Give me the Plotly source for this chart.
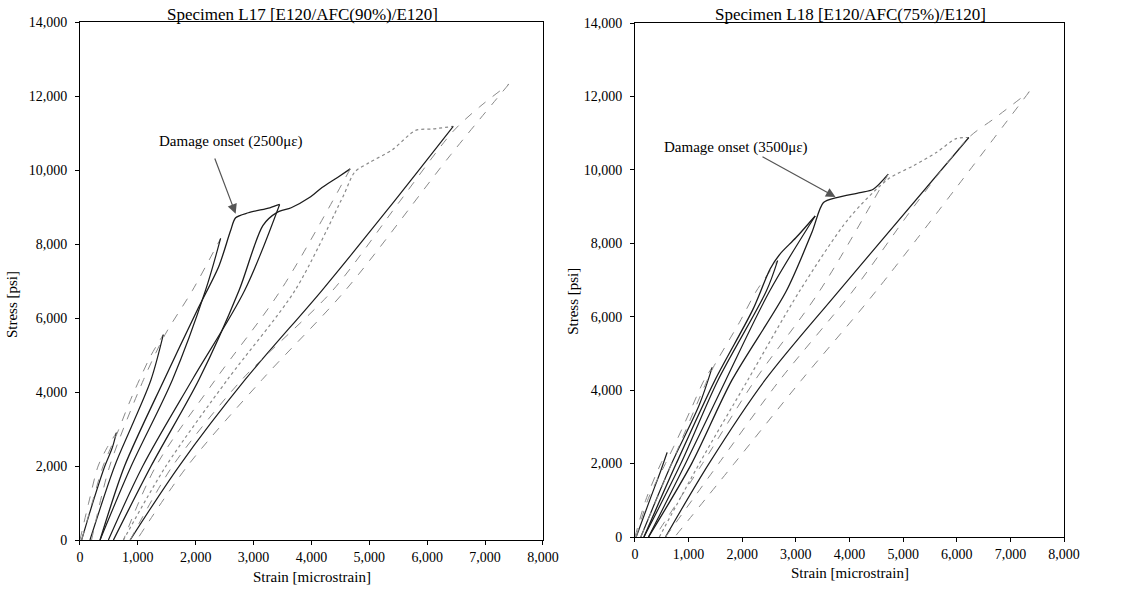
import plotly.graph_objects as go

# ---------------- Data: Specimen L17 ----------------
l17_load_strain = [
    [0, 150, 314, 470, 630],
    [29, 210, 400, 660, 850, 1029, 1230, 1440],
    [200, 514, 1100, 1470, 1945, 2430],
    [347, 771, 1457, 2038, 2400, 2600, 2690, 2910, 3280, 3450],
    [578, 1229, 2057, 2750, 3160, 3400, 3650, 3965, 4183, 4450, 4670],
    [751, 1486, 2550, 3717, 4550, 4750, 5000, 5400, 5800, 6100, 6450],
    [867, 1600, 2800, 4369, 5500, 6450, 6900, 7410],
]
l17_load_stress = [
    [0, 1000, 2000, 2500, 2900],
    [0, 1000, 2000, 2950, 3700, 4339, 5000, 5550],
    [0, 2000, 4339, 5550, 6750, 8150],
    [0, 2000, 4339, 6250, 7400, 8350, 8710, 8845, 8980, 9070],
    [0, 2000, 4339, 6750, 8500, 8850, 8980, 9255, 9527, 9800, 10030],
    [0, 2000, 4339, 6750, 9300, 9950, 10200, 10550, 11070, 11110, 11180],
    [0, 2000, 4339, 6750, 9100, 11050, 11700, 12320],
]
l17_unload_strain = [
    [630, 560, 430, 220, 29],
    [1440, 1229, 900, 600, 173],
    [2430, 2170, 1600, 886, 347],
    [3450, 2847, 1943, 1086, 491],
    [4670, 3468, 2343, 1314, 751],
    [6450, 5300, 4183, 2857, 1714, 867],
    [7410, 6400, 4587, 3150, 1857, 982],
]
l17_unload_stress = [
    [2900, 2500, 2000, 1000, 0],
    [5550, 4339, 3100, 2000, 0],
    [8150, 6750, 4339, 2000, 0],
    [9070, 6750, 4339, 2000, 0],
    [10030, 6750, 4339, 2000, 0],
    [11180, 8900, 6750, 4339, 2000, 0],
    [12320, 10400, 6750, 4339, 2000, 0],
]

# ---------------- Data: Specimen L18 ----------------
l18_load_strain = [
    [0, 200, 483, 600],
    [23, 250, 569, 800, 1050, 1287, 1440],
    [109, 684, 1345, 1460, 1950, 2264, 2660],
    [167, 770, 1489, 2200, 2520, 2700, 3000, 3360],
    [253, 1057, 1805, 2822, 3300, 3515, 3762, 4196, 4443, 4722],
    [454, 1200, 2100, 3070, 4000, 4722, 5186, 5619, 5990, 6225],
    [569, 1560, 2695, 4062, 5200, 6225, 6700, 7351],
]
l18_load_stress = [
    [0, 1000, 2000, 2300],
    [0, 1050, 2000, 2700, 3500, 4265, 4620],
    [0, 2000, 4265, 4620, 5850, 6700, 7530],
    [0, 2000, 4265, 6200, 7300, 7700, 8150, 8745],
    [0, 2000, 4265, 6700, 8300, 9109, 9245, 9382, 9473, 9882],
    [0, 2000, 4265, 6700, 8700, 9750, 10109, 10473, 10850, 10882],
    [0, 2000, 4265, 6700, 9000, 10882, 11400, 12127],
]
l18_unload_strain = [
    [600, 480, 300, 23],
    [1440, 1200, 684, 109],
    [2660, 2450, 1546, 856, 167],
    [3360, 2512, 1690, 943, 253],
    [4722, 3442, 2236, 1259, 368],
    [6225, 3800, 2420, 1380, 569],
    [7351, 4496, 3100, 1850, 741],
]
l18_unload_stress = [
    [2300, 1800, 1100, 0],
    [4620, 3600, 2000, 0],
    [7530, 6700, 4265, 2000, 0],
    [8745, 6700, 4265, 2000, 0],
    [9882, 6700, 4265, 2000, 0],
    [10882, 6700, 4265, 2000, 0],
    [12127, 6700, 4265, 2000, 0],
]

x_ticks = [0, 1000, 2000, 3000, 4000, 5000, 6000, 7000, 8000]
y_ticks = [0, 2000, 4000, 6000, 8000, 10000, 12000, 14000]

titles = ["Specimen L17 [E120/AFC(90%)/E120]", "Specimen L18 [E120/AFC(75%)/E120]"]
notes = ["Damage onset (2500\u03bc\u03b5)", "Damage onset (3500\u03bc\u03b5)"]

# ---------------- Figure ----------------
BLACK = "#1c1c1c"
GRAY = "#8a8a8a"
load_styles = [(GRAY, "dash", 1.0), (GRAY, "dash", 1.0), (GRAY, "dash", 1.0),
               (BLACK, "solid", 1.3), (BLACK, "solid", 1.3), (GRAY, "dot", 1.2), (GRAY, "dash", 1.0)]
unload_styles = [(BLACK, "solid", 1.2)] * 4 + [(GRAY, "dash", 1.0), (BLACK, "solid", 1.2), (GRAY, "dash", 1.0)]

fig = go.Figure()
panels = [
    (l17_load_strain, l17_load_stress, l17_unload_strain, l17_unload_stress, "x", "y"),
    (l18_load_strain, l18_load_stress, l18_unload_strain, l18_unload_stress, "x2", "y2"),
]
for ls, lsig, us, usig, xa, ya in panels:
    for i in range(len(ls)):
        c, d, w = load_styles[i]
        fig.add_trace(go.Scatter(x=ls[i], y=lsig[i], mode="lines", xaxis=xa, yaxis=ya,
                                 line=dict(color=c, dash=d, width=w, shape="spline", smoothing=0.8),
                                 showlegend=False, hoverinfo="skip"))
        c, d, w = unload_styles[i]
        fig.add_trace(go.Scatter(x=us[i], y=usig[i], mode="lines", xaxis=xa, yaxis=ya,
                                 line=dict(color=c, dash=d, width=w, shape="spline", smoothing=0.9),
                                 showlegend=False, hoverinfo="skip"))

FONT = "Liberation Serif"
axis_common = dict(showline=True, linecolor="black", linewidth=1, mirror=True, automargin=False,
                   ticks="outside", ticklen=4, tickcolor="black", showgrid=False, zeroline=False,
                   tickfont=dict(family=FONT, size=14, color="black"), tickformat=",")

fig.update_layout(
    width=1123, height=590,
    margin=dict(l=0, r=0, t=0, b=0),
    paper_bgcolor="white", plot_bgcolor="white",
    font=dict(family=FONT, size=14, color="black"),
    xaxis=dict(domain=[0.0712, 0.4835], range=[0, 8000], tickvals=x_ticks, anchor="y", **axis_common),
    yaxis=dict(domain=[0.0847, 0.9627], range=[0, 14000], tickvals=y_ticks, anchor="x",
               ticklabelstandoff=5, **axis_common),
    xaxis2=dict(domain=[0.5654, 0.9475], range=[0, 8000], tickvals=x_ticks, anchor="y2", **axis_common),
    yaxis2=dict(domain=[0.0898, 0.961], range=[0, 14000], tickvals=y_ticks, anchor="x2",
                ticklabelstandoff=5, **axis_common),
)

TS = 15
ann = []
ann.append(dict(text=titles[0], x=0.269, y=0.976, xref="paper", yref="paper", xanchor="center",
                yanchor="middle", showarrow=False, font=dict(family=FONT, size=17)))
ann.append(dict(text=titles[1], x=0.757, y=0.976, xref="paper", yref="paper", xanchor="center",
                yanchor="middle", showarrow=False, font=dict(family=FONT, size=17)))
ann.append(dict(text="Strain [microstrain]", x=0.2774, y=0.022, xref="paper", yref="paper",
                xanchor="center", yanchor="middle", showarrow=False, font=dict(family=FONT, size=TS)))
ann.append(dict(text="Strain [microstrain]", x=0.7565, y=0.029, xref="paper", yref="paper",
                xanchor="center", yanchor="middle", showarrow=False, font=dict(family=FONT, size=TS)))
ann.append(dict(text="Stress [psi]", x=0.0107, y=0.483, xref="paper", yref="paper", textangle=-90,
                xanchor="center", yanchor="middle", showarrow=False, font=dict(family=FONT, size=TS)))
ann.append(dict(text="Stress [psi]", x=0.5102, y=0.49, xref="paper", yref="paper", textangle=-90,
                xanchor="center", yanchor="middle", showarrow=False, font=dict(family=FONT, size=TS)))
ann.append(dict(text="", x=2690, y=8820, ax=2320, ay=10350, xref="x", yref="y", axref="x", ayref="y",
                showarrow=True, arrowhead=2, arrowsize=1.6, arrowwidth=1.2, arrowcolor="#555555"))
ann.append(dict(text=notes[0], x=2600, y=10760, xref="x", yref="y", showarrow=False,
                font=dict(family=FONT, size=TS)))
ann.append(dict(text="", x=3740, y=9260, ax=2350, ay=10380, xref="x2", yref="y2", axref="x2", ayref="y2",
                showarrow=True, arrowhead=2, arrowsize=1.6, arrowwidth=1.2, arrowcolor="#555555"))
ann.append(dict(text=notes[1], x=1870, y=10620, xref="x2", yref="y2", showarrow=False,
                font=dict(family=FONT, size=TS)))
fig.update_layout(annotations=ann)

fig.write_html("out.html", config={"displayModeBar": False},
               post_script="document.body.style.margin='0';document.body.style.overflow='hidden';")
